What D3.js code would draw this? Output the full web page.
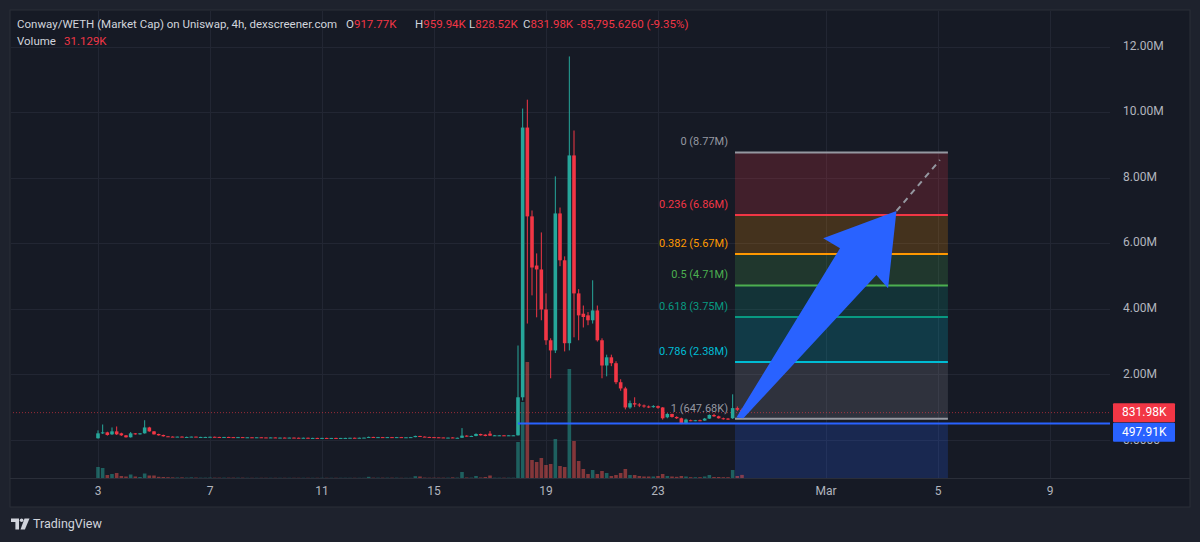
<!DOCTYPE html>
<html>
<head>
<meta charset="utf-8">
<script src="https://cdn.jsdelivr.net/npm/d3@7/dist/d3.min.js"></script>
<style>
html,body{margin:0;padding:0;background:#1e222d;}
svg{display:block;}
text{font-family:Roboto,"Liberation Sans",sans-serif;}
</style>
</head>
<body>
<svg id="chart" width="1200" height="542"></svg>
<script>
// ---------------- DATA ----------------
const candleStartUTC = Date.UTC(2025, 1, 3, 0);   // first 4h candle
const candleStepHours = 4;

const openM = [
 .05,.20,.23,.17,.26,.20,.14,.08,.20,.17,
 .20,.38,.26,.18,.15,.11,.10,.095,.10,.09,
 .09,.10,.09,.09,.09,.095,.09,.085,.09,.085,
 .08,.085,.08,.08,.075,.08,.075,.07,.075,.07,
 .07,.065,.07,.065,.06,.065,.06,.06,.055,.06,
 .055,.06,.055,.06,.06,.065,.06,.065,.07,.09,
 .085,.085,.08,.085,.08,.085,.08,.08,.085,.12,
 .10,.09,.085,.08,.075,.07,.075,.06,.065,.13,
 .11,.12,.18,.16,.19,.13,.14,.14,.135,.14,
 .14,1.30,9.53,6.82,5.32,5.20,3.98,3.04,2.73,6.91,
 5.48,2.95,8.68,4.47,3.85,3.80,3.65,3.95,3.04,2.27,
 2.52,2.34,1.76,1.57,0.99,1.12,1.08,1.05,1.02,1.00,
 1.03,0.99,0.69,0.79,0.70,0.66,0.50,0.60,0.59,0.60,
 0.59,0.65,0.76,0.72,0.66,0.65,0.66,0.97,0.91777];
const highM = [
 .29,.47,.25,.38,.41,.22,.15,.24,.21,.21,
 .60,.40,.27,.19,.16,.12,.11,.10,.11,.10,
 .10,.10,.095,.095,.10,.10,.095,.09,.095,.09,
 .09,.09,.085,.085,.08,.085,.08,.08,.08,.075,
 .075,.07,.075,.07,.07,.07,.065,.065,.065,.065,
 .06,.065,.06,.065,.065,.07,.07,.07,.10,.095,
 .09,.09,.09,.09,.09,.09,.085,.09,.13,.125,
 .105,.095,.09,.085,.08,.075,.08,.07,.36,.14,
 .13,.20,.19,.17,.27,.15,.15,.15,.15,.15,
 2.88,10.11,10.38,7.00,5.69,6.33,4.47,3.10,8.04,7.09,
 5.60,11.70,9.44,4.60,4.10,3.90,4.87,4.10,3.10,2.60,
 2.60,2.40,1.85,1.62,1.20,1.30,1.12,1.08,1.05,1.06,
 1.05,1.00,0.82,0.80,0.72,0.68,0.65,0.62,0.61,0.62,
 0.67,0.78,0.80,0.74,0.68,0.67,1.39,1.02,0.95994];
const lowM = [
 .04,.18,.13,.15,.15,.12,.07,.07,.16,.16,
 .19,.25,.16,.13,.10,.10,.09,.09,.09,.085,
 .085,.09,.085,.085,.085,.085,.08,.08,.08,.08,
 .075,.075,.075,.07,.07,.07,.07,.065,.065,.065,
 .06,.06,.06,.055,.055,.055,.055,.05,.05,.05,
 .05,.05,.05,.055,.055,.055,.055,.06,.065,.08,
 .08,.075,.075,.08,.075,.08,.075,.075,.08,.09,
 .085,.08,.075,.07,.07,.065,.055,.055,.06,.10,
 .10,.11,.13,.11,.12,.12,.13,.13,.13,.13,
 .13,1.20,3.55,4.41,3.74,3.65,2.90,1.88,2.65,5.30,
 2.70,2.73,3.13,3.04,3.43,3.50,3.55,3.00,1.88,1.94,
 2.25,1.70,1.50,0.93,0.95,1.00,1.00,0.98,0.97,0.98,
 0.95,0.62,0.66,0.68,0.64,0.48,0.48,0.57,0.57,0.57,
 0.58,0.64,0.70,0.65,0.62,0.61,0.64,0.88,0.82852];
const closeM = [
 .20,.23,.15,.26,.17,.14,.08,.20,.17,.20,
 .38,.26,.17,.14,.11,.10,.095,.10,.09,.09,
 .10,.09,.09,.09,.095,.09,.085,.09,.085,.08,
 .085,.08,.08,.075,.08,.075,.07,.075,.07,.07,
 .065,.07,.065,.06,.065,.06,.06,.055,.06,.055,
 .06,.055,.06,.06,.065,.06,.065,.07,.09,.085,
 .085,.08,.085,.08,.085,.08,.08,.085,.12,.10,
 .09,.085,.08,.075,.07,.07,.06,.065,.13,.11,
 .12,.18,.14,.12,.13,.14,.14,.135,.14,.14,
 1.30,9.53,6.82,5.26,5.20,3.98,3.04,2.73,6.91,5.48,
 2.95,8.68,4.47,3.80,3.75,3.65,3.95,3.04,2.27,2.52,
 2.34,1.76,1.57,0.99,1.12,1.08,1.05,1.02,1.00,1.03,
 0.98,0.66,0.79,0.70,0.66,0.50,0.62,0.59,0.60,0.59,
 0.65,0.76,0.72,0.66,0.64,0.63,0.97,0.92,0.83198];
const volumeK = [
 110,100,30,40,50,20,15,35,15,10,
 45,25,25,12,10,8,6,5,6,4,
 6,4,3,3,4,3,3,3,3,3,
 3,3,2,2,2,2,2,2,2,2,
 2,2,2,2,2,2,2,2,2,2,
 2,2,2,2,2,2,2,2,12,3,
 3,3,3,3,3,2,2,2,18,15,
 4,3,3,3,3,3,6,4,60,5,
 4,20,5,10,25,3,3,3,3,3,
 360,760,1160,180,160,200,130,140,390,120,
 110,1090,370,170,90,40,80,40,70,50,
 20,30,50,90,30,30,20,15,15,15,
 20,40,20,15,12,20,15,8,8,8,
 15,30,10,10,8,8,80,20,31.129];

const yTickValues = [0, 2, 4, 6, 8, 10, 12];
const yTickLabels = ["0.0000", "2.00M", "4.00M", "6.00M", "8.00M", "10.00M", "12.00M"];
const xTickDates = [[2025,1,3],[2025,1,7],[2025,1,11],[2025,1,15],[2025,1,19],[2025,1,23],[2025,2,1],[2025,2,5],[2025,2,9]];
const xTickLabels = ["3", "7", "11", "15", "19", "23", "Mar", "5", "9"];

const fibRatios = ["0", "0.236", "0.382", "0.5", "0.618", "0.786", "1"];
const fibValuesM = [8.77, 6.86, 5.67, 4.71, 3.75, 2.38, 0.64768];
const fibValueLabels = ["8.77M", "6.86M", "5.67M", "4.71M", "3.75M", "2.38M", "647.68K"];
const fibColors = ["#9598a1", "#f23645", "#ff9800", "#4caf50", "#089981", "#00bcd4", "#9598a1"];
const fibStartUTC = Date.UTC(2025, 1, 25, 18);
const fibEndUTC = Date.UTC(2025, 2, 5, 8, 30);

const hlineValueM = 0.49791;         // blue horizontal ray
const hlineStartIndex = 90;
const lastPriceM = 0.83198;

// arrow annotation (candle index, value in M)
const arrowIdx = [136.8, 159.0, 155.4, 171.1, 169.3, 166.8, 138.3];
const arrowVal = [0.684, 5.847, 6.152, 6.985, 4.626, 5.032, 0.66];
const dashIdx = [171.1, 180.4];
const dashVal = [6.985, 8.54];

const titleText = "Conway/WETH (Market Cap) on Uniswap, 4h, dexscreener.com";
const ohlcLetters = ["O", "H", "L", "C"];
const ohlcValues = ["917.77K", "959.94K", "828.52K", "831.98K"];
const changeText = "-85,795.6260 (-9.35%)";
const volumeText = "31.129K";

// ---------------- LAYOUT ----------------
const svg = d3.select("#chart");
const P = {left: 10, top: 10, right: 1190, bottom: 507};
const plotRight = 1110, plotBottom = 478;
const C = {bg: "#161a25", outer: "#1e222d", grid: "#222633", border: "#2a2e39",
  text: "#d1d4dc", axisText: "#b2b5be", up: "#26a69a", down: "#f23645", blue: "#2962ff"};

const hourMs = 3600e3;
const tOf = i => new Date(candleStartUTC + i * candleStepHours * hourMs);

const x = d3.scaleUtc()
  .domain([new Date(Date.UTC(2025,1,3)), new Date(Date.UTC(2025,2,9))])
  .range([98, 1050]);
const y = d3.scaleLinear().domain([0, 12]).range([439.9, 46.6]);
const yVol = d3.scaleLinear().domain([0, 1400]).range([plotBottom, plotBottom - 140]);

svg.append("rect").attr("width", 1200).attr("height", 542).attr("fill", C.outer);
svg.append("rect").attr("x", P.left).attr("y", P.top)
  .attr("width", P.right - P.left).attr("height", P.bottom - P.top)
  .attr("fill", C.bg).attr("stroke", C.border).attr("stroke-width", 1);

const defs = svg.append("defs");
defs.append("clipPath").attr("id", "plotclip").append("rect")
  .attr("x", P.left + 1).attr("y", P.top + 1)
  .attr("width", plotRight - P.left - 1).attr("height", plotBottom - P.top - 1);

const plot = svg.append("g").attr("clip-path", "url(#plotclip)");

// grid
const xTicks = xTickDates.map(d => new Date(Date.UTC(d[0], d[1], d[2])));
plot.selectAll(".vg").data(xTicks).join("line")
  .attr("x1", d => Math.round(x(d)) + 0.5).attr("x2", d => Math.round(x(d)) + 0.5)
  .attr("y1", P.top).attr("y2", plotBottom).attr("stroke", C.grid);
plot.selectAll(".hg").data(yTickValues).join("line")
  .attr("x1", P.left).attr("x2", plotRight)
  .attr("y1", d => Math.round(y(d)) + 0.5).attr("y2", d => Math.round(y(d)) + 0.5)
  .attr("stroke", C.grid);

// fib bands
const fx0 = x(new Date(fibStartUTC)), fx1 = x(new Date(fibEndUTC));
const bands = d3.range(fibValuesM.length - 1);
plot.selectAll(".band").data(bands).join("rect")
  .attr("x", fx0).attr("width", fx1 - fx0)
  .attr("y", i => y(fibValuesM[i])).attr("height", i => y(fibValuesM[i + 1]) - y(fibValuesM[i]))
  .attr("fill", i => fibColors[i + 1]).attr("fill-opacity", 0.2);
// blue zone below the ray inside the drawing's time range
plot.append("rect").attr("x", fx0).attr("width", fx1 - fx0)
  .attr("y", y(hlineValueM)).attr("height", plotBottom - y(hlineValueM))
  .attr("fill", C.blue).attr("fill-opacity", 0.2);

// current price dotted line
plot.append("line").attr("x1", P.left).attr("x2", plotRight)
  .attr("y1", y(lastPriceM)).attr("y2", y(lastPriceM))
  .attr("stroke", C.down).attr("stroke-opacity", 0.6).attr("stroke-dasharray", "1,2");

// volume
const idx = d3.range(openM.length);
const bw = 3.6;
plot.selectAll(".vol").data(idx).join("rect")
  .attr("x", i => x(tOf(i)) - bw / 2).attr("width", bw)
  .attr("y", i => yVol(volumeK[i])).attr("height", i => Math.max(0.8, plotBottom - yVol(volumeK[i])))
  .attr("fill", i => closeM[i] >= openM[i] ? C.up : "#ef5350").attr("fill-opacity", 0.5);

// fib lines
plot.selectAll(".fl").data(fibValuesM).join("line")
  .attr("x1", fx0).attr("x2", fx1)
  .attr("y1", d => y(d)).attr("y2", d => y(d))
  .attr("stroke", (d, i) => fibColors[i]).attr("stroke-width", 2);
plot.selectAll(".ft").data(fibValuesM).join("text")
  .attr("x", fx0 - 7).attr("y", d => y(d) - 10)
  .attr("text-anchor", "end").attr("dominant-baseline", "middle")
  .attr("font-size", 11).attr("fill", (d, i) => fibColors[i])
  .text((d, i) => `${fibRatios[i]} (${fibValueLabels[i]})`);

// candles
const cg = plot.append("g");
cg.selectAll(".wick").data(idx).join("line")
  .attr("x1", i => x(tOf(i))).attr("x2", i => x(tOf(i)))
  .attr("y1", i => y(highM[i])).attr("y2", i => y(lowM[i]))
  .attr("stroke", i => closeM[i] >= openM[i] ? C.up : C.down).attr("stroke-width", 1);
cg.selectAll(".body").data(idx).join("rect")
  .attr("x", i => x(tOf(i)) - bw / 2).attr("width", bw)
  .attr("y", i => y(Math.max(openM[i], closeM[i])))
  .attr("height", i => Math.max(1, Math.abs(y(openM[i]) - y(closeM[i]))))
  .attr("fill", i => closeM[i] >= openM[i] ? C.up : C.down);

// blue horizontal ray
plot.append("line").attr("x1", x(tOf(hlineStartIndex))).attr("x2", plotRight)
  .attr("y1", y(hlineValueM)).attr("y2", y(hlineValueM))
  .attr("stroke", C.blue).attr("stroke-width", 2);

// arrow
const arrowPts = arrowIdx.map((d, i) => [x(tOf(d)), y(arrowVal[i])]);
plot.append("path").attr("d", d3.line()(arrowPts) + "Z").attr("fill", C.blue);
plot.append("line")
  .attr("x1", x(tOf(dashIdx[0]))).attr("y1", y(dashVal[0]))
  .attr("x2", x(tOf(dashIdx[1]))).attr("y2", y(dashVal[1]))
  .attr("stroke", "#9598a1").attr("stroke-width", 2).attr("stroke-dasharray", "6,5");

// separators
svg.append("line").attr("x1", P.left).attr("x2", P.right).attr("y1", plotBottom + 0.5).attr("y2", plotBottom + 0.5).attr("stroke", C.border);

// y axis labels (the 0 label sits partly under the price boxes, as in the original)
svg.selectAll(".yl").data(yTickValues).join("text")
  .attr("x", 1123).attr("y", d => d === 0 ? y(d) + 1 : y(d)).attr("dominant-baseline", "middle")
  .attr("font-size", 12).attr("fill", C.axisText)
  .text((d, i) => yTickLabels[i]);

// price labels
const priceBoxes = [
  {label: "831.98K", color: C.down, cy: y(lastPriceM)},
  {label: "497.91K", color: C.blue, cy: y(lastPriceM) + 19.5}
];
priceBoxes.forEach(b => {
  svg.append("rect").attr("x", 1113).attr("y", b.cy - 9.5).attr("width", 62).attr("height", 19)
    .attr("rx", 1).attr("fill", b.color);
  svg.append("text").attr("x", 1122).attr("y", b.cy + 0.5).attr("dominant-baseline", "middle")
    .attr("font-size", 12).attr("fill", "#ffffff").text(b.label);
});

// x axis labels
svg.selectAll(".xl").data(xTicks).join("text")
  .attr("x", d => x(d)).attr("y", 492).attr("text-anchor", "middle").attr("dominant-baseline", "middle")
  .attr("font-size", 12).attr("fill", C.axisText)
  .text((d, i) => xTickLabels[i]);

// header
const headY = 25, fs = 11.5;
svg.append("text").attr("x", 17).attr("y", headY).attr("dominant-baseline", "middle")
  .attr("font-size", fs).attr("fill", C.text).text(titleText);
const letterX = [346, 415, 469, 523];
ohlcLetters.forEach((l, i) => {
  const t = svg.append("text").attr("x", letterX[i]).attr("y", headY).attr("dominant-baseline", "middle")
    .attr("font-size", fs).attr("fill", C.text);
  t.append("tspan").text(l);
  t.append("tspan").attr("fill", C.down).text(ohlcValues[i]);
});
svg.append("text").attr("x", 577).attr("y", headY).attr("dominant-baseline", "middle")
  .attr("font-size", fs).attr("fill", C.down).text(changeText);

svg.append("text").attr("x", 17).attr("y", 42).attr("dominant-baseline", "middle")
  .attr("font-size", fs).attr("fill", C.text).text("Volume");
svg.append("text").attr("x", 64).attr("y", 42).attr("dominant-baseline", "middle")
  .attr("font-size", fs).attr("fill", C.down).text(volumeText);

// TradingView logo
const logo = svg.append("g").attr("fill", "#d1d4dc");
logo.append("path").attr("d", "M11 518.5h8v11h-3.6v-7.4H11z");
logo.append("circle").attr("cx", 21.6).attr("cy", 520.3).attr("r", 1.8);
logo.append("path").attr("d", "M24.5 518.5h5l-4.6 11h-4.4z");
svg.append("text").attr("x", 33).attr("y", 524.5).attr("dominant-baseline", "middle")
  .attr("font-size", 12.5).attr("fill", "#d1d4dc").text("TradingView");
</script>
</body>
</html>
